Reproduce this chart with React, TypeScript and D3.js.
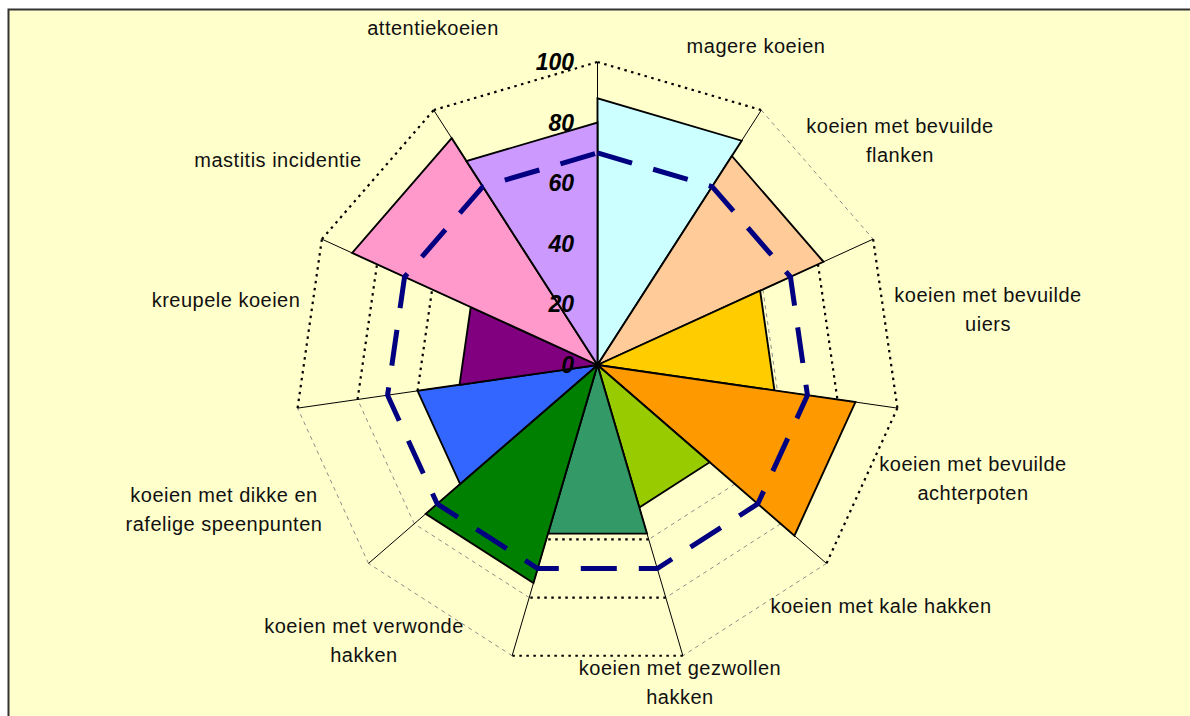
import * as d3 from "d3";
import React from "react";

// one wedge per sector, sector i runs from spoke i to spoke i+1
const categories = [
  "magere koeien",
  "koeien met bevuilde\nflanken",
  "koeien met bevuilde\nuiers",
  "koeien met bevuilde\nachterpoten",
  "koeien met kale hakken",
  "koeien met gezwollen\nhakken",
  "koeien met verwonde\nhakken",
  "koeien met dikke en\nrafelige speenpunten",
  "kreupele koeien",
  "mastitis incidentie",
  "attentiekoeien",
];
const scores = [88, 82, 59, 86, 49, 58, 75, 60, 46, 89, 80];
const norm = [70, 70, 70, 70, 70, 70, 70, 70, 70, 70, 70];
const ticks = [0, 20, 40, 60, 80, 100];

// styling / layout
const colors = [
  "#CCFFFF", "#FFCC99", "#FFCC00", "#FF9900", "#99CC00", "#339966",
  "#008000", "#3366FF", "#800080", "#FF99CC", "#CC99FF",
];
const labelAt: [number, number][] = [
  [756, 53], [900, 133], [988, 302], [973, 471], [881, 613], [680, 675],
  [364, 633], [224, 502], [226, 307], [278, 167], [433, 35],
];
// grid segments that render as heavy dots rather than thin dashes
const heavyGrid: Record<number, number[]> = {
  100: [10, 0, 2, 3, 5, 8, 9],
  80: [2, 5, 8],
  60: [5, 8],
};

const W = 1190;
const H = 716;
const cx = 597.5;
const cy = 365;
const font = "'Liberation Sans', Arial, sans-serif";

export default function App() {
  const n = categories.length;
  const r = d3.scaleLinear().domain([0, 100]).range([0, 303]);
  const angle = (i: number) => ((i % n) * 2 * Math.PI) / n;
  const pt = (i: number, v: number): [number, number] => [
    cx + r(v) * Math.sin(angle(i)),
    cy - r(v) * Math.cos(angle(i)),
  ];

  const radial = d3
    .lineRadial<[number, number]>()
    .angle((d) => d[0])
    .radius((d) => d[1])
    .curve(d3.curveLinearClosed);

  const gridLevels = ticks.filter((t) => t > 0);

  return (
    <div style={{ position: "fixed", left: 0, top: 0, width: W, height: H, overflow: "hidden", background: "#fff" }}>
      <svg width={W} height={H} style={{ display: "block" }}>
        <rect x={9} y={10} width={W} height={H} fill="#FFFFCC" />
        <path d={`M8.5,${H} L8.5,9.5 L${W},9.5`} fill="none" stroke="#333" strokeWidth={2} />

        {/* gridlines */}
        {gridLevels.map((lv) =>
          d3.range(n).map((i) => {
            const [x1, y1] = pt(i, lv);
            const [x2, y2] = pt(i + 1, lv);
            const heavy = (heavyGrid[lv] || []).includes(i);
            return (
              <line
                key={`g${lv}-${i}`}
                x1={x1}
                y1={y1}
                x2={x2}
                y2={y2}
                stroke={heavy ? "#000" : "#808080"}
                strokeWidth={heavy ? 2.2 : 0.9}
                strokeDasharray={heavy ? "2.5,4.5" : "4,4"}
              />
            );
          })
        )}

        {/* spokes */}
        {d3.range(n).map((i) => {
          const [x2, y2] = pt(i, 100);
          return <line key={`s${i}`} x1={cx} y1={cy} x2={x2} y2={y2} stroke="#000" strokeWidth={1} />;
        })}

        {/* wedges */}
        <g transform={`translate(${cx},${cy})`}>
          {scores.map((v, i) => (
            <path
              key={`w${i}`}
              d={radial([
                [0, 0],
                [angle(i), r(v)],
                [angle(i + 1) + (i === n - 1 ? 2 * Math.PI : 0), r(v)],
              ]) || ""}
              fill={colors[i]}
              stroke="#000"
              strokeWidth={1.9}
              strokeLinejoin="miter"
            />
          ))}
          <path
            d={radial(norm.map((v, i) => [angle(i), r(v)] as [number, number])) || ""}
            fill="none"
            stroke="#000080"
            strokeWidth={5}
            strokeDasharray="36,22"
          />
        </g>

        {/* value axis labels */}
        {ticks.map((t) => (
          <text
            key={`t${t}`}
            x={574}
            y={cy - r(t) + 8}
            textAnchor="end"
            fontFamily={font}
            fontSize={23}
            fontWeight="bold"
            fontStyle="italic"
            fill="#000"
          >
            {t}
          </text>
        ))}

        {/* category labels */}
        {categories.map((c, i) => (
          <text
            key={`c${i}`}
            x={labelAt[i][0]}
            y={labelAt[i][1]}
            textAnchor="middle"
            fontFamily={font}
            fontSize={20}
            letterSpacing={0.5}
            fill="#111"
          >
            {c.split("\n").map((line, j) => (
              <tspan key={j} x={labelAt[i][0]} dy={j === 0 ? 0 : 29}>
                {line}
              </tspan>
            ))}
          </text>
        ))}
      </svg>
    </div>
  );
}
